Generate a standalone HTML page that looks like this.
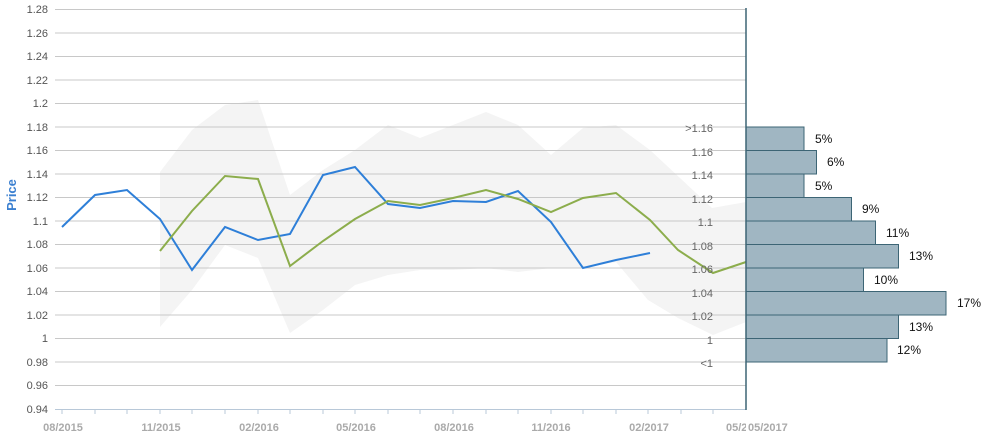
<!DOCTYPE html>
<html><head><meta charset="utf-8"><style>body{margin:0;background:#fff}svg{display:block;font-family:"Liberation Sans",sans-serif}</style></head>
<body>
<svg width="991" height="440" viewBox="0 0 991 440">
<polygon fill="#f4f4f4" points="160,172 192,130 225,105 258,100 290,195 323,170 355,150 388,125 420,138 453,125 486,112 518,125 551,155 583,128 616,125 650,150 680,178 712,208 746,202 746,322 713,335 678,318 648,300 616,262 583,268 551,268 518,272 486,268 453,270 420,270 388,275 355,285 323,310 290,333 258,258 225,245 192,290 160,327"/>
<g stroke="#c8c8c8" stroke-width="1">
<line x1="55" x2="746" y1="9.5" y2="9.5"/><line x1="55" x2="746" y1="33" y2="33"/><line x1="55" x2="746" y1="56.5" y2="56.5"/><line x1="55" x2="746" y1="80" y2="80"/><line x1="55" x2="746" y1="103.5" y2="103.5"/><line x1="55" x2="746" y1="127" y2="127"/><line x1="55" x2="746" y1="150.5" y2="150.5"/><line x1="55" x2="746" y1="174" y2="174"/><line x1="55" x2="746" y1="197.5" y2="197.5"/><line x1="55" x2="746" y1="221" y2="221"/><line x1="55" x2="746" y1="244.5" y2="244.5"/><line x1="55" x2="746" y1="268" y2="268"/><line x1="55" x2="746" y1="291.5" y2="291.5"/><line x1="55" x2="746" y1="315" y2="315"/><line x1="55" x2="746" y1="338.5" y2="338.5"/><line x1="55" x2="746" y1="362" y2="362"/><line x1="55" x2="746" y1="385.5" y2="385.5"/>
</g>
<line x1="55" x2="746" y1="409.5" y2="409.5" stroke="#b8c8d8"/>
<g stroke="#b8c8d8"><line x1="62" x2="62" y1="409" y2="414"/><line x1="95" x2="95" y1="409" y2="414"/><line x1="127" x2="127" y1="409" y2="414"/><line x1="160" x2="160" y1="409" y2="414"/><line x1="192" x2="192" y1="409" y2="414"/><line x1="225" x2="225" y1="409" y2="414"/><line x1="258" x2="258" y1="409" y2="414"/><line x1="290" x2="290" y1="409" y2="414"/><line x1="323" x2="323" y1="409" y2="414"/><line x1="355" x2="355" y1="409" y2="414"/><line x1="388" x2="388" y1="409" y2="414"/><line x1="420" x2="420" y1="409" y2="414"/><line x1="453" x2="453" y1="409" y2="414"/><line x1="486" x2="486" y1="409" y2="414"/><line x1="518" x2="518" y1="409" y2="414"/><line x1="551" x2="551" y1="409" y2="414"/><line x1="583" x2="583" y1="409" y2="414"/><line x1="616" x2="616" y1="409" y2="414"/><line x1="648" x2="648" y1="409" y2="414"/><line x1="681" x2="681" y1="409" y2="414"/><line x1="713" x2="713" y1="409" y2="414"/></g>
<g font-size="11" fill="#555" text-anchor="end">
<text x="48" y="13">1.28</text><text x="48" y="37">1.26</text><text x="48" y="60">1.24</text><text x="48" y="84">1.22</text><text x="48" y="107">1.2</text><text x="48" y="131">1.18</text><text x="48" y="154">1.16</text><text x="48" y="178">1.14</text><text x="48" y="201">1.12</text><text x="48" y="225">1.1</text><text x="48" y="248">1.08</text><text x="48" y="272">1.06</text><text x="48" y="295">1.04</text><text x="48" y="319">1.02</text><text x="48" y="342">1</text><text x="48" y="366">0.98</text><text x="48" y="389">0.96</text><text x="48" y="413">0.94</text>
</g>
<text transform="translate(16,195) rotate(-90)" font-size="13" font-weight="bold" fill="#3a7fd0" text-anchor="middle">Price</text>
<g font-size="11" fill="#aaa" text-anchor="middle" font-weight="bold">
<text x="63" y="431">08/2015</text><text x="161" y="431">11/2015</text><text x="259" y="431">02/2016</text><text x="356" y="431">05/2016</text><text x="454" y="431">08/2016</text><text x="551" y="431">11/2016</text><text x="649" y="431">02/2017</text>
</g>
<svg x="0" y="0" width="746" height="440"><text x="726" y="431" font-size="11" fill="#aaa" font-weight="bold">05/2017</text></svg>
<text x="748" y="431" font-size="11" fill="#aaa" font-weight="bold">05/2017</text>
<polyline fill="none" stroke="#2e7fd8" stroke-width="2" points="62,227 95,195 127,190 160,219 192,270 225,227 258,240 290,234 323,175 355,167 388,204 420,208 453,201 486,202 518,191 551,222 583,268 616,260 650,253"/>
<polyline fill="none" stroke="#8cad4c" stroke-width="2" points="160,251 192,211 225,176 258,179 290,266 323,241 355,219 388,201 420,205 453,198 486,190 518,199 551,212 583,198 616,193 650,220 678,250 713,273 746,262"/>
<g fill="#a0b6c2" stroke="#3d6575" stroke-width="1">
<rect x="746" y="127" width="58" height="23.5"/><rect x="746" y="150.5" width="70.5" height="23.5"/><rect x="746" y="174" width="58" height="23.5"/><rect x="746" y="197.5" width="105.5" height="23.5"/><rect x="746" y="221" width="129.5" height="23.5"/><rect x="746" y="244.5" width="152.5" height="23.5"/><rect x="746" y="268" width="117.5" height="23.5"/><rect x="746" y="291.5" width="200" height="23.5"/><rect x="746" y="315" width="152.5" height="23.5"/><rect x="746" y="338.5" width="141" height="23.5"/>
</g>
<line x1="746" x2="746" y1="8" y2="410" stroke="#3d6575" stroke-width="1.5"/>
<g font-size="11" fill="#666" text-anchor="end">
<text x="713" y="132">&gt;1.16</text><text x="713" y="156">1.16</text><text x="713" y="179">1.14</text><text x="713" y="203">1.12</text><text x="713" y="226">1.1</text><text x="713" y="250">1.08</text><text x="713" y="273">1.06</text><text x="713" y="297">1.04</text><text x="713" y="320">1.02</text><text x="713" y="344">1</text><text x="713" y="367">&lt;1</text>
</g>
<g font-size="12" fill="#111">
<text x="815" y="143">5%</text><text x="827" y="166">6%</text><text x="815" y="190">5%</text><text x="862" y="213">9%</text><text x="886" y="237">11%</text><text x="909" y="260">13%</text><text x="874" y="284">10%</text><text x="957" y="307">17%</text><text x="909" y="331">13%</text><text x="897" y="354">12%</text>
</g>
</svg>
</body></html>
